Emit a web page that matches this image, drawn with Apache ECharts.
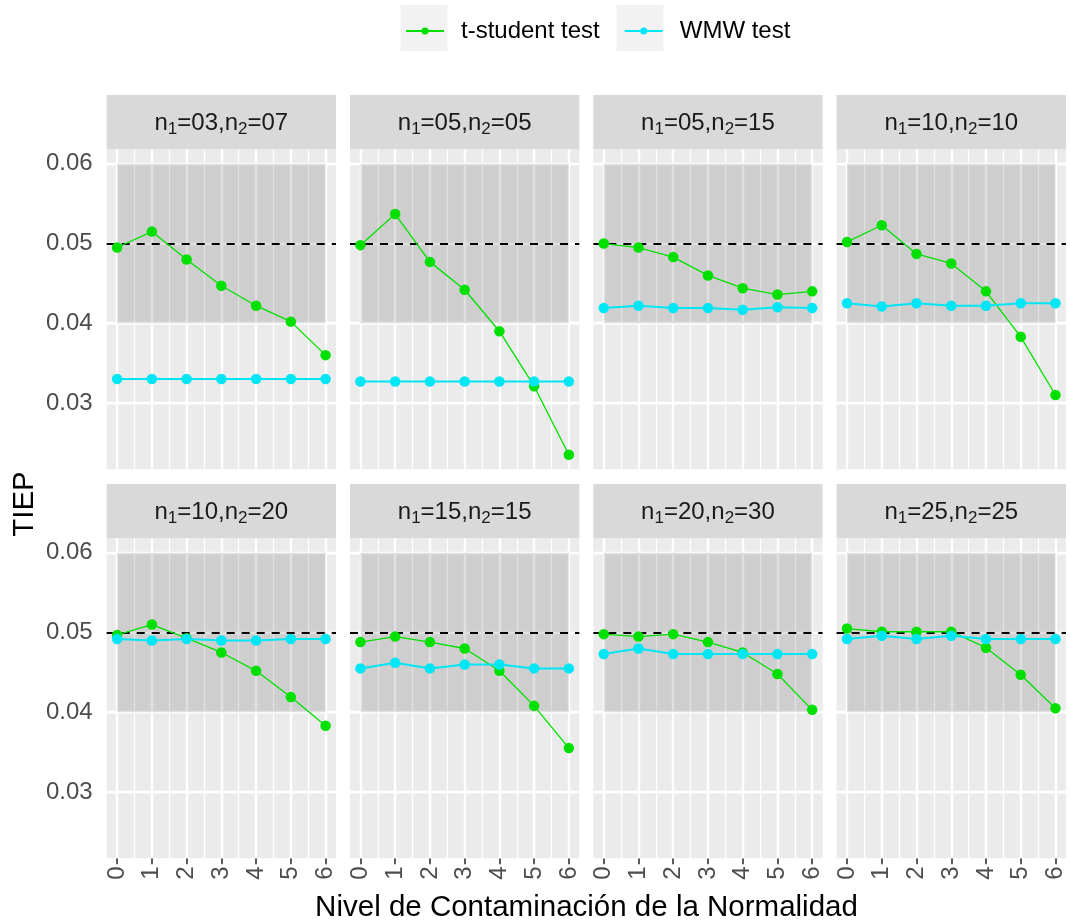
<!DOCTYPE html>
<html>
<head>
<meta charset="utf-8">
<script src="https://cdn.jsdelivr.net/npm/echarts@6/dist/echarts.min.js"></script>
<style>
  html, body { margin: 0; padding: 0; background: #ffffff; }
  #chart { width: 1070px; height: 924px; }
</style>
</head>
<body>
<div id="chart"></div>
<script>
// Contamination levels (x axis)
const levels = [0, 1, 2, 3, 4, 5, 6];

// Facet labels: sample sizes n1, n2
const panelN1 = ['03', '05', '05', '10', '10', '15', '20', '25'];
const panelN2 = ['07', '05', '15', '10', '20', '15', '30', '25'];

// Empirical type I error (TIEP), t-student test, one row per facet
const tStudent = [
  [0.0495, 0.0515, 0.0480, 0.0447, 0.0422, 0.0402, 0.0360],
  [0.0498, 0.0537, 0.0477, 0.0442, 0.0390, 0.0321, 0.0235],
  [0.0500, 0.0495, 0.0483, 0.0460, 0.0444, 0.0436, 0.0440],
  [0.0502, 0.0523, 0.0487, 0.0475, 0.0440, 0.0383, 0.0310],
  [0.0497, 0.0510, 0.0493, 0.0475, 0.0452, 0.0419, 0.0383],
  [0.0488, 0.0495, 0.0488, 0.0480, 0.0452, 0.0408, 0.0355],
  [0.0498, 0.0495, 0.0498, 0.0488, 0.0475, 0.0448, 0.0403],
  [0.0505, 0.0501, 0.0501, 0.0501, 0.0481, 0.0447, 0.0405]
];

// Empirical type I error (TIEP), WMW test, one row per facet
const wmw = [
  [0.0330, 0.0330, 0.0330, 0.0330, 0.0330, 0.0330, 0.0330],
  [0.0327, 0.0327, 0.0327, 0.0327, 0.0327, 0.0327, 0.0327],
  [0.0419, 0.0422, 0.0419, 0.0419, 0.0417, 0.0420, 0.0419],
  [0.0425, 0.0421, 0.0425, 0.0422, 0.0422, 0.0425, 0.0425],
  [0.0492, 0.0490, 0.0492, 0.0490, 0.0490, 0.0492, 0.0492],
  [0.0455, 0.0462, 0.0455, 0.0460, 0.0460, 0.0455, 0.0455],
  [0.0473, 0.0480, 0.0473, 0.0473, 0.0473, 0.0473, 0.0473],
  [0.0492, 0.0496, 0.0492, 0.0496, 0.0492, 0.0492, 0.0492]
];

// Nominal level and acceptance band
const alphaNominal = 0.05;
const bandLow = 0.04;
const bandHigh = 0.06;

// Axis breaks
const yBreaks = [0.03, 0.04, 0.05, 0.06];
const yMinorBreaks = [0.025, 0.035, 0.045, 0.055];
const xMinorBreaks = [0.5, 1.5, 2.5, 3.5, 4.5, 5.5];

const seriesNames = ['t-student test', 'WMW test'];
const colGreen = '#00E000';
const colCyan = '#00E6F4';
const FONT = '"Liberation Sans", Arial, sans-serif';

// Shared scales with 5% expansion on each side
const allVals = tStudent.flat().concat(wmw.flat(), [bandLow, bandHigh]);
const yLo0 = Math.min(...allVals), yHi0 = Math.max(...allVals);
const yPad = (yHi0 - yLo0) * 0.05;
const yMin = yLo0 - yPad, yMax = yHi0 + yPad;
const xPad = (levels[levels.length - 1] - levels[0]) * 0.05;
const xMin = levels[0] - xPad, xMax = levels[levels.length - 1] + xPad;

// Facet layout (4 columns x 2 rows)
const panelLeft0 = 106.7, panelW = 229.3, gapX = 14;
const stripTops = [95, 484], stripH = 54.3, panelH = 320;

const grids = [], xAxes = [], yAxes = [], series = [], graphics = [];

for (let i = 0; i < 8; i++) {
  const col = i % 4, row = Math.floor(i / 4);
  const left = panelLeft0 + col * (panelW + gapX);
  const top = stripTops[row] + stripH;
  grids.push({
    left: left, top: top, width: panelW, height: panelH,
    show: true, backgroundColor: '#EBEBEB', borderWidth: 0, containLabel: false
  });
  xAxes.push({
    type: 'value', gridIndex: i, min: xMin, max: xMax,
    axisLine: { show: false },
    splitLine: { show: false },
    axisTick: {
      show: row === 1, customValues: levels, length: 6,
      lineStyle: { color: '#333333', width: 1.6 }
    },
    axisLabel: {
      show: row === 1, customValues: levels, rotate: 90, margin: 8,
      fontSize: 24, color: '#4D4D4D', fontFamily: FONT,
      formatter: v => String(Math.round(v))
    }
  });
  yAxes.push({
    type: 'value', gridIndex: i, min: yMin, max: yMax,
    axisLine: { show: false },
    splitLine: { show: false },
    axisTick: {
      show: col === 0, customValues: yBreaks, length: 6,
      lineStyle: { color: '#333333', width: 1.6 }
    },
    axisLabel: {
      show: col === 0, customValues: yBreaks, margin: 14,
      fontSize: 24, color: '#4D4D4D', fontFamily: FONT,
      formatter: v => v.toFixed(2)
    }
  });

  // Grid lines of the panel
  const gridLines = []
    .concat(xMinorBreaks.map(x => ({ xAxis: x, lineStyle: { width: 1.3 } })))
    .concat(levels.map(x => ({ xAxis: x, lineStyle: { width: 2.4 } })))
    .concat(yMinorBreaks.map(y => ({ yAxis: y, lineStyle: { width: 1.3 } })))
    .concat(yBreaks.map(y => ({ yAxis: y, lineStyle: { width: 2.4 } })));

  series.push({
    name: seriesNames[0], type: 'line', xAxisIndex: i, yAxisIndex: i, z: 4,
    data: levels.map((x, j) => [x, tStudent[i][j]]),
    symbol: 'circle', symbolSize: 10.5, showSymbol: true,
    itemStyle: { color: colGreen },
    lineStyle: { color: colGreen, width: 1.3 },
    emphasis: { disabled: true },
    markLine: {
      z: 1, silent: true, animation: false, symbol: ['none', 'none'],
      label: { show: false },
      lineStyle: { color: '#FFFFFF', type: 'solid' },
      emphasis: { disabled: true },
      data: gridLines
    },
    markArea: {
      z: 2, silent: true, animation: false,
      itemStyle: { color: 'rgba(0,0,0,0.12)' },
      label: { show: false },
      emphasis: { disabled: true },
      data: [[{ xAxis: levels[0], yAxis: bandLow }, { xAxis: levels[levels.length - 1], yAxis: bandHigh }]]
    }
  });
  series.push({
    name: seriesNames[1], type: 'line', xAxisIndex: i, yAxisIndex: i, z: 5,
    data: levels.map((x, j) => [x, wmw[i][j]]),
    symbol: 'circle', symbolSize: 10.5, showSymbol: true,
    itemStyle: { color: colCyan },
    lineStyle: { color: colCyan, width: 2 },
    emphasis: { disabled: true },
    markLine: {
      z: 3, silent: true, animation: false, symbol: ['none', 'none'],
      label: { show: false },
      lineStyle: { color: '#000000', type: [8, 7], width: 2 },
      emphasis: { disabled: true },
      data: [{ yAxis: alphaNominal }]
    }
  });

  // Facet strip
  graphics.push({
    type: 'rect', z: 0, silent: true,
    shape: { x: left, y: stripTops[row], width: panelW, height: stripH },
    style: { fill: '#D9D9D9' }
  });
  graphics.push({
    type: 'text', z: 1, silent: true,
    x: left + panelW / 2, y: stripTops[row] + stripH / 2 + 1,
    style: {
      text: '{a|n}{s|1}{a|=' + panelN1[i] + ',n}{s|2}{a|=' + panelN2[i] + '}',
      align: 'center', verticalAlign: 'middle',
      rich: {
        a: { fontSize: 24, fontFamily: FONT, fill: '#1A1A1A', lineHeight: 30, verticalAlign: 'middle' },
        s: { fontSize: 17, fontFamily: FONT, fill: '#1A1A1A', lineHeight: 17, verticalAlign: 'bottom' }
      }
    }
  });
}

// Legend key backgrounds
[400.7, 616.7].forEach(x => {
  graphics.push({
    type: 'rect', z: 0, silent: true,
    shape: { x: x, y: 5, width: 46.6, height: 46 },
    style: { fill: '#F2F2F2' }
  });
});

// Axis titles
graphics.push({
  type: 'text', z: 1, silent: true, x: 25, y: 504, rotation: Math.PI / 2,
  style: { text: 'TIEP', fontSize: 29.5, fontFamily: FONT, fill: '#000000', align: 'center', verticalAlign: 'middle' }
});
graphics.push({
  type: 'text', z: 1, silent: true, x: 586.5, y: 908,
  style: { text: 'Nivel de Contaminación de la Normalidad', fontSize: 29.5, fontFamily: FONT, fill: '#000000', align: 'center', verticalAlign: 'middle' }
});

const chart = echarts.init(document.getElementById('chart'), null, { renderer: 'canvas' });
chart.setOption({
  animation: false,
  backgroundColor: '#FFFFFF',
  legend: {
    data: seriesNames, left: 405, top: 19, padding: 0,
    itemWidth: 38, itemHeight: 9, itemGap: 24,
    textStyle: { fontSize: 24, fontFamily: FONT, color: '#000000', padding: [0, 0, 0, 12] },
    selectedMode: false
  },
  grid: grids,
  xAxis: xAxes,
  yAxis: yAxes,
  series: series,
  graphic: graphics
});
</script>
</body>
</html>
